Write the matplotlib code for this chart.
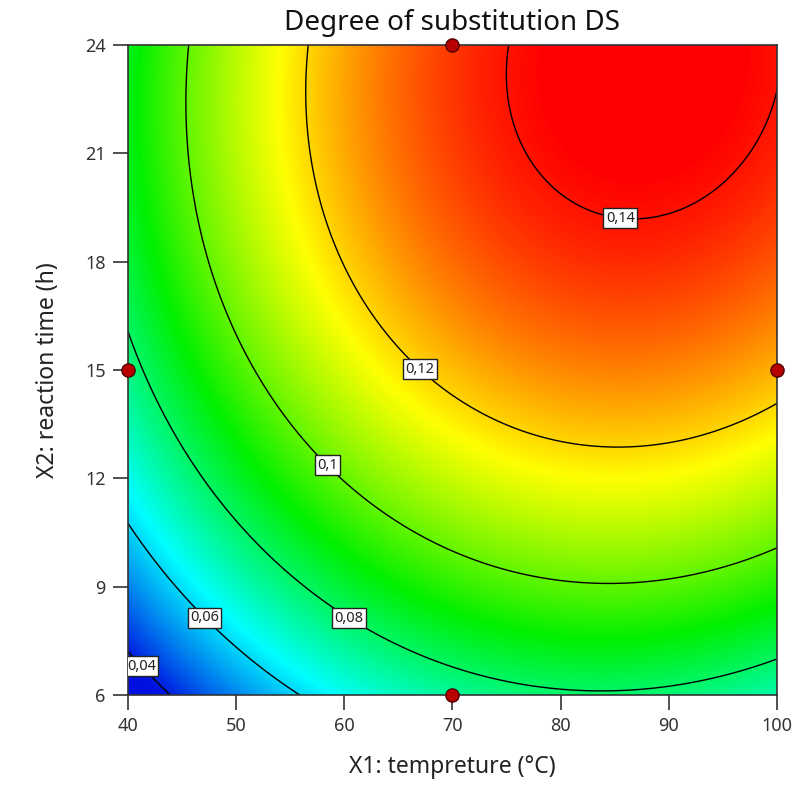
import numpy as np
import matplotlib
matplotlib.use('agg')
from matplotlib import pyplot as plt
from matplotlib.colors import LinearSegmentedColormap

plt.rcParams['font.family'] = ['Noto Sans', 'DejaVu Sans']

# quadratic model in coded units A=(X1-70)/30, B=(X2-15)/9
coef_names = ['b0', 'A', 'B', 'AB', 'A2', 'B2']
coef_vals = [0.1225, 0.02335, 0.0308, 0.0030, -0.0222, -0.0172]

# design points shown on the plot
pts_x1 = [70, 40, 100, 70]
pts_x2 = [24, 15, 15, 6]

levels = [0.04, 0.06, 0.08, 0.10, 0.12, 0.14]
label_pos = [(41.6, 6.9), (47.6, 8.3), (61.0, 8.4), (58.9, 12.5), (67.7, 15.25), (85.7, 19.7)]

# colour scale limits (blue .. red)
z_low, z_high = 0.038, 0.142

x_ticks = [40, 50, 60, 70, 80, 90, 100]
y_ticks = [6, 9, 12, 15, 18, 21, 24]

c = dict(zip(coef_names, coef_vals))

x1 = np.linspace(40, 100, 400)
x2 = np.linspace(6, 24, 400)
X1, X2 = np.meshgrid(x1, x2)
A = (X1 - 70) / 30
B = (X2 - 15) / 9
Z = (c['b0'] + c['A'] * A + c['B'] * B + c['AB'] * A * B
     + c['A2'] * A ** 2 + c['B2'] * B ** 2)

cmap = LinearSegmentedColormap.from_list(
    'de', ['#0010e0', '#00ffff', '#00f000', '#ffff00', '#ff0000'])

fig = plt.figure(figsize=(8.01, 7.96), dpi=100)
ax = fig.add_axes([128 / 801, 1 - 695 / 796, (777 - 128) / 801, (695 - 45) / 796])

ax.imshow(Z, extent=[40, 100, 6, 24], origin='lower', aspect='auto',
          cmap=cmap, vmin=z_low, vmax=z_high, interpolation='bilinear')

cs = ax.contour(X1, X2, Z, levels=levels, colors='black', linewidths=1.0)
labels = ax.clabel(cs, fmt=lambda v: ('%g' % v).replace('.', ','),
                   manual=label_pos, inline=False, fontsize=10.5)
for t in labels:
    t.set_rotation(0)
    t.set_color('#222222')
    t.set_bbox(dict(facecolor='white', edgecolor='#222222', lw=1.0, pad=1.8))

ax.plot(pts_x1, pts_x2, 'o', color='#b80000', markeredgecolor='#500000',
        markersize=9.5, markeredgewidth=1, clip_on=False, zorder=5)

ax.set_xlim(40, 100)
ax.set_ylim(6, 24)
ax.set_xticks(x_ticks)
ax.set_yticks(y_ticks)
ax.tick_params(length=11, width=1.2, pad=5, labelsize=13, colors='#333333')
for s in ax.spines.values():
    s.set_color('#333333')
    s.set_linewidth(1.2)

ax.set_xlabel('X1: tempreture (°C)', fontsize=16.5, color='#222222', labelpad=14)
ax.set_ylabel('X2: reaction time (h)', fontsize=16.5, color='#222222', labelpad=18)
fig.text(452 / 801, 1 - 23 / 796, 'Degree of substitution DS', fontsize=20,
         ha='center', va='center', color='#111111')

fig.savefig('out.png', dpi=100)
